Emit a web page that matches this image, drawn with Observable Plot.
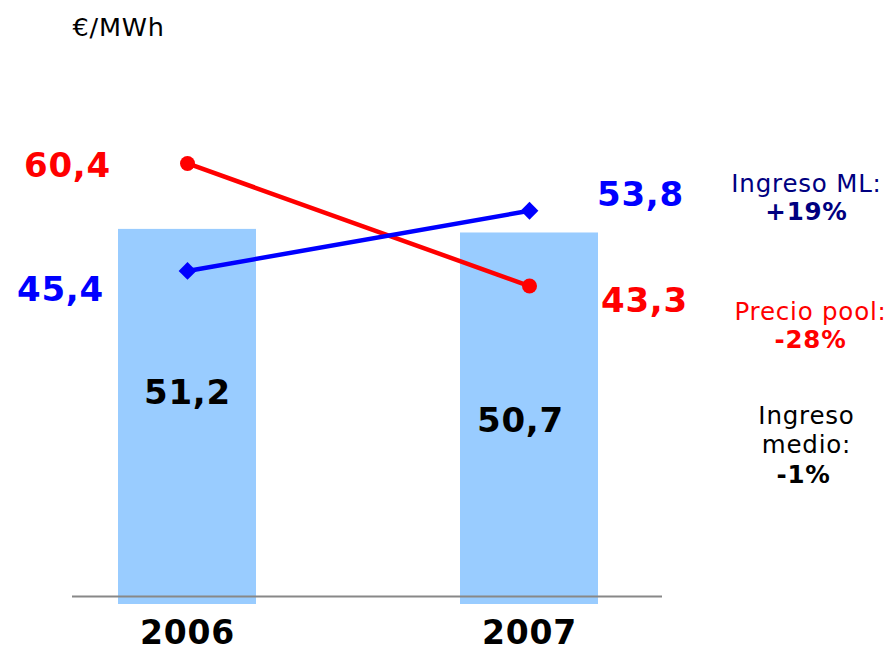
<!DOCTYPE html>
<html>
<head>
<meta charset="utf-8">
<script src="https://cdn.jsdelivr.net/npm/d3@7"></script>
<script src="https://cdn.jsdelivr.net/npm/@observablehq/plot@0.6"></script>
<style>
  html, body { margin: 0; padding: 0; background: #fff; }
  #chart { position: relative; width: 891px; height: 653px; }
  #chart svg text { letter-spacing: 0.8px; }
</style>
</head>
<body>
<div id="chart"></div>
<script>
const years = ["2006", "2007"];
const ingresoMedio = [51.2, 50.7];
const ingresoML = [45.4, 53.8];
const precioPool = [60.4, 43.3];
const unitLabel = "€/MWh";
const annLabels = ["Ingreso ML:", "Precio pool:", "Ingreso\nmedio:"];
const annChanges = ["+19%", "-28%", "-1%"];

const rows = years.map((year, i) => ({
  year, medio: ingresoMedio[i], ml: ingresoML[i], pool: precioPool[i]
}));
const fmt = v => d3.format(".1f")(v).replace(".", ",");

const FONT = "DejaVu Sans, Verdana, sans-serif";
const RED = "#ff0000", BLUE = "#0000ff", NAVY = "#000080";

const big = {fontSize: 34, fontWeight: "bold", lineAnchor: "middle", textAnchor: "middle"};
const ann = {fontSize: 24.5, lineAnchor: "middle", textAnchor: "middle", lineHeight: 1.15};

const plot = Plot.plot({
  width: 891,
  height: 653,
  marginLeft: 72,
  marginRight: 229,
  marginTop: 22,
  marginBottom: 57,
  style: {fontFamily: FONT, background: "#fff", overflow: "visible"},
  x: {domain: years, range: [118, 598], paddingInner: 0.5965, paddingOuter: 0, axis: null},
  y: {domain: [0, 80], range: [596, 22.4], axis: null},
  marks: [
    Plot.barY(rows, {x: "year", y: "medio", fill: "#99ccff", insetBottom: -8}),
    Plot.ruleY([0], {stroke: "#888888", strokeWidth: 2}),
    Plot.line(rows, {x: "year", y: "pool", stroke: RED, strokeWidth: 4.5}),
    Plot.line(rows, {x: "year", y: "ml", stroke: BLUE, strokeWidth: 4.5}),
    Plot.dot(rows, {x: "year", y: "pool", r: 7.5, fill: RED, symbol: "circle"}),
    Plot.dot(rows, {x: "year", y: "ml", r: 8, fill: BLUE, symbol: "diamond2"}),
    // series value labels
    Plot.text(rows.slice(0, 1), {...big, x: "year", y: "pool", text: d => fmt(d.pool), fill: RED, dx: -120, dy: 3}),
    Plot.text(rows.slice(1, 2), {...big, x: "year", y: "pool", text: d => fmt(d.pool), fill: RED, dx: 115, dy: 15}),
    Plot.text(rows.slice(0, 1), {...big, x: "year", y: "ml", text: d => fmt(d.ml), fill: BLUE, dx: -127, dy: 19}),
    Plot.text(rows.slice(1, 2), {...big, x: "year", y: "ml", text: d => fmt(d.ml), fill: BLUE, dx: 111, dy: -16}),
    // bar labels
    Plot.text(rows.slice(0, 1), {...big, x: "year", y: d => d.medio / 2, text: d => fmt(d.medio), fill: "#000", dy: -20}),
    Plot.text(rows.slice(1, 2), {...big, x: "year", y: d => d.medio / 2, text: d => fmt(d.medio), fill: "#000", dx: -9, dy: 6}),
    // year labels
    Plot.text(rows, {...big, fontSize: 33, x: "year", y: () => 0, text: "year", fill: "#000", dy: 37}),
    // unit label
    Plot.text([unitLabel], {x: () => years[0], y: () => 80, text: d => d, fontSize: 25.5, textAnchor: "start", lineAnchor: "middle", dx: -115, dy: 5, fill: "#000"}),
    // right annotations
    Plot.text(rows.slice(1, 2), {...ann, x: "year", y: "ml", text: () => annLabels[0], fill: NAVY, dx: 277, dy: -28}),
    Plot.text(rows.slice(1, 2), {...ann, x: "year", y: "ml", text: () => annChanges[0], fill: NAVY, fontWeight: "bold", dx: 277, dy: 0}),
    Plot.text(rows.slice(1, 2), {...ann, x: "year", y: "pool", text: () => annLabels[1], fill: RED, dx: 281, dy: 24.5}),
    Plot.text(rows.slice(1, 2), {...ann, x: "year", y: "pool", text: () => annChanges[1], fill: RED, fontWeight: "bold", dx: 281, dy: 52.5}),
    Plot.text(rows.slice(1, 2), {...ann, x: "year", y: "medio", text: () => annLabels[2], fill: "#000", dx: 277, dy: 196.5}),
    Plot.text(rows.slice(1, 2), {...ann, x: "year", y: "medio", text: () => annChanges[2], fill: "#000", fontWeight: "bold", dx: 274, dy: 240.5})
  ]
});
document.getElementById("chart").appendChild(plot);
</script>
</body>
</html>
